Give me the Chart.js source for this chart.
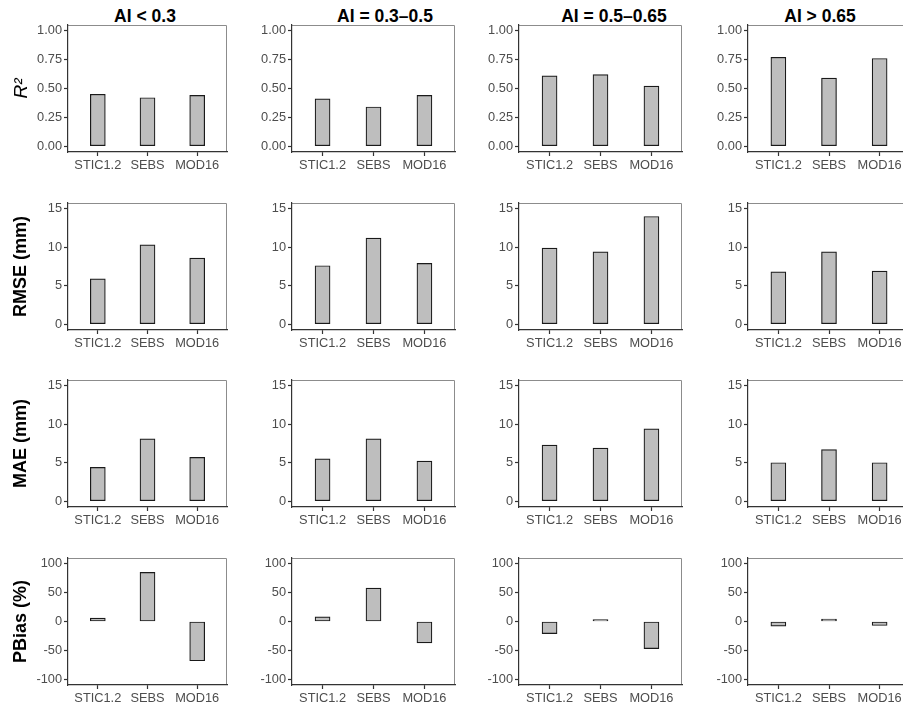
<!DOCTYPE html>
<html>
<head>
<meta charset="utf-8">
<title>Model performance by aridity class</title>
<script src="https://cdn.jsdelivr.net/npm/chart.js@4.4.1/dist/chart.umd.min.js"></script>
<style>
  html, body { margin: 0; padding: 0; background: #fff; overflow: hidden; }
  body { width: 903px; height: 704px; position: relative; font-family: "Liberation Sans", Arial, sans-serif; }
  canvas { position: absolute; }
  .col-title {
    position: absolute; top: 8px; transform: translateX(-50%);
    font-weight: bold; font-size: 17.5px; line-height: 1;
    white-space: nowrap; color: #000;
  }
</style>
</head>
<body>
<script>
(function () {
  "use strict";

  var models = ["STIC1.2", "SEBS", "MOD16"];
  var aiClasses = ["AI < 0.3", "AI = 0.3\u20130.5", "AI = 0.5\u20130.65", "AI > 0.65"];

  // one inner array per AI class, values in model order
  var r2 = [[0.45, 0.42, 0.44], [0.41, 0.34, 0.44], [0.61, 0.62, 0.52], [0.77, 0.59, 0.76]];
  var rmse = [[5.9, 10.3, 8.6], [7.6, 11.2, 7.9], [9.9, 9.4, 14.0], [6.8, 9.4, 6.9]];
  var mae = [[4.4, 8.1, 5.7], [5.5, 8.1, 5.2], [7.3, 6.9, 9.4], [5.0, 6.7, 5.0]];
  var pbias = [[6, 85, -68], [8, 58, -37], [-21, 1, -47], [-8, 4, -7]];

  var r2Ticks = [0, 0.25, 0.5, 0.75, 1];
  var mmTicks = [0, 5, 10, 15];
  var pbiasTicks = [-100, -50, 0, 50, 100];

  var FONT = '"Liberation Sans", Arial, sans-serif';

  var rows = [
    { values: r2, ticks: r2Ticks, min: -0.05, max: 1.05, title: "R\u00b2", italic: true,
      fmt: function (v) { return v.toFixed(2); } },
    { values: rmse, ticks: mmTicks, min: -0.75, max: 15.75, title: "RMSE (mm)",
      fmt: function (v) { return String(v); } },
    { values: mae, ticks: mmTicks, min: -0.75, max: 15.75, title: "MAE (mm)",
      fmt: function (v) { return String(v); } },
    { values: pbias, ticks: pbiasTicks, min: -110, max: 110, title: "PBias (%)",
      fmt: function (v) { return String(v); } }
  ];

  // panel geometry (plot area in page pixels)
  var plotLeft = [68, 292, 519, 748];
  var plotWidth = [159, 163, 163, 162];
  var plotTop = [25, 203, 380, 558];
  var titleCenter = [145, 385, 614, 820];
  var PLOT_H = 127, PAD_TOP = 12, X_AXIS_H = 30, PAD_RIGHT = 2;
  var yAxisW = [68, 50, 50, 50];

  // light grey top/right frame, axis lines are drawn over it by the scales
  var panelBorder = {
    id: "panelBorder",
    beforeDraw: function (chart) {
      var a = chart.chartArea, ctx = chart.ctx;
      ctx.save();
      ctx.strokeStyle = "#8c8c8c";
      ctx.lineWidth = 1;
      ctx.beginPath();
      ctx.moveTo(a.left, Math.round(a.top) + 0.5);
      ctx.lineTo(Math.round(a.right) - 0.5, Math.round(a.top) + 0.5);
      ctx.lineTo(Math.round(a.right) - 0.5, a.bottom);
      ctx.stroke();
      ctx.restore();
    }
  };

  aiClasses.forEach(function (name, c) {
    var d = document.createElement("div");
    d.className = "col-title";
    d.style.left = titleCenter[c] + "px";
    d.textContent = name;
    document.body.appendChild(d);
  });

  rows.forEach(function (row, r) {
    aiClasses.forEach(function (name, c) {
      var w = yAxisW[c] + plotWidth[c] + PAD_RIGHT;
      var h = PAD_TOP + PLOT_H + X_AXIS_H;
      var canvas = document.createElement("canvas");
      canvas.width = w;
      canvas.height = h;
      canvas.style.width = w + "px";
      canvas.style.height = h + "px";
      canvas.style.left = (plotLeft[c] - yAxisW[c]) + "px";
      canvas.style.top = (plotTop[r] - PAD_TOP) + "px";
      document.body.appendChild(canvas);

      var vals = row.values[c];

      new Chart(canvas.getContext("2d"), {
        type: "bar",
        data: {
          datasets: [{
            data: vals.map(function (v, i) { return { x: i + 1, y: v }; }),
            backgroundColor: "#bebebe",
            borderColor: "#1a1a1a",
            borderWidth: 1.2,
            borderSkipped: false,
            barThickness: 15,
            minBarLength: 2
          }]
        },
        options: {
          responsive: false,
          animation: false,
          events: [],
          layout: { padding: { top: PAD_TOP, right: PAD_RIGHT, left: 0, bottom: 0 } },
          plugins: { legend: { display: false }, tooltip: { enabled: false } },
          scales: {
            x: {
              type: "linear",
              min: 0.4,
              max: 3.6,
              offset: false,
              afterBuildTicks: function (s) {
                s.ticks = models.map(function (m, i) { return { value: i + 1 }; });
              },
              afterFit: function (s) { s.height = X_AXIS_H; },
              ticks: {
                autoSkip: false,
                maxRotation: 0,
                padding: 2,
                color: "#4d4d4d",
                font: { family: FONT, size: 12.8 },
                callback: function (v, i) { return models[i]; }
              },
              grid: { offset: false, drawOnChartArea: false, drawTicks: true, tickLength: 4, tickColor: "#333", tickWidth: 1.2 },
              border: { display: true, color: "#333", width: 1.2 }
            },
            y: {
              min: row.min,
              max: row.max,
              afterBuildTicks: function (s) {
                s.ticks = row.ticks.map(function (v) { return { value: v }; });
              },
              afterFit: function (s) { s.width = yAxisW[c]; },
              ticks: {
                padding: 2,
                color: "#4d4d4d",
                font: { family: FONT, size: 12.8 },
                callback: function (v) { return row.fmt(v); }
              },
              grid: { drawOnChartArea: false, drawTicks: true, tickLength: 4, tickColor: "#333", tickWidth: 1.2 },
              border: { display: true, color: "#333", width: 1.2 },
              title: {
                display: c === 0,
                text: row.title,
                color: "#000",
                padding: { top: 10, bottom: 0 },
                font: row.italic
                  ? { family: FONT, size: 19, style: "italic", weight: "normal" }
                  : { family: FONT, size: 18, weight: "bold" }
              }
            }
          }
        },
        plugins: [panelBorder]
      });
    });
  });
})();
</script>
</body>
</html>
